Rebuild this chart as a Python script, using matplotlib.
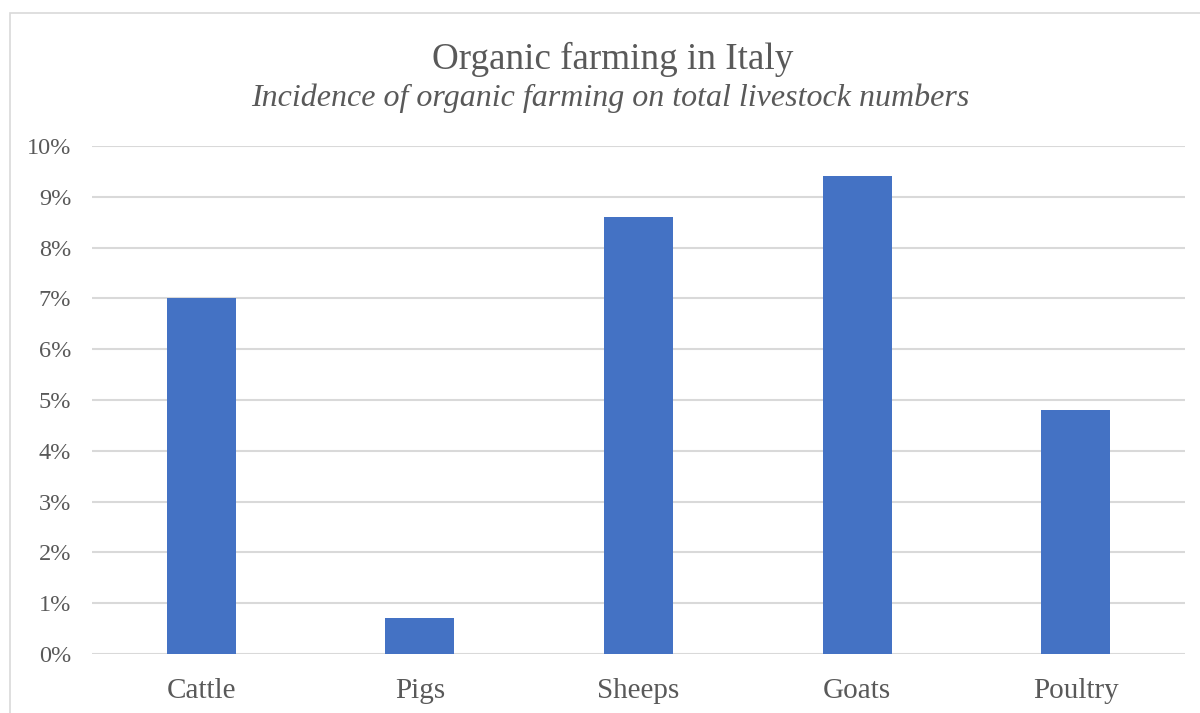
import matplotlib
matplotlib.use("Agg")
import matplotlib.pyplot as plt
from matplotlib.patches import Rectangle
from matplotlib.ticker import FuncFormatter, MultipleLocator

categories = ["Cattle", "Pigs", "Sheeps", "Goats", "Poultry"]
organic_share = [7.0, 0.7, 8.6, 9.4, 4.8]  # percent of total livestock

title = "Organic farming in Italy"
subtitle = "Incidence of organic farming on total livestock numbers"

plt.rcParams["font.family"] = ["Liberation Serif", "DejaVu Serif"]
text_color = "#595959"
grid_color = "#D9D9D9"
bar_color = "#4472C4"

W, H = 1200, 713
fig = plt.figure(figsize=(W / 100, H / 100), dpi=100)

# chart frame (extends past the right and bottom edges)
fig.patches.append(Rectangle((10 / W, -0.05), 1.2, 1 - 13 / H + 0.05,
                             transform=fig.transFigure, fill=False,
                             edgecolor=grid_color, linewidth=1.2))

left, right = 92 / W, 1185 / W
bottom, top = 1 - 654 / H, 1 - 146 / H
ax = fig.add_axes([left, bottom, right - left, top - bottom])

x = range(len(categories))
ax.bar(x, organic_share, width=0.315, color=bar_color, zorder=3)

ax.set_xlim(-0.5, len(categories) - 0.5)
ax.set_ylim(0, 10)
ax.yaxis.set_major_locator(MultipleLocator(1))
ax.yaxis.set_major_formatter(FuncFormatter(lambda v, p: f"{v:.0f}%"))
ax.grid(axis="y", color=grid_color, linewidth=1.5, zorder=0)
ax.set_axisbelow(True)
for s in ax.spines.values():
    s.set_visible(False)
ax.tick_params(axis="both", length=0, colors=text_color)
ax.tick_params(axis="y", labelsize=17.5, pad=15)
ax.tick_params(axis="x", labelsize=21, pad=17)
ax.set_xticks(list(x))
ax.set_xticklabels(categories)

fig.text(0.5 * (432 + 793) / W, 1 - 59 / H, title, ha="center", va="center",
         fontsize=26.7, color=text_color)
fig.text(0.5 * (253 + 968) / W, 1 - 98 / H, subtitle, ha="center", va="center",
         fontsize=23, style="italic", color=text_color)

fig.savefig("out.png", dpi=100)
